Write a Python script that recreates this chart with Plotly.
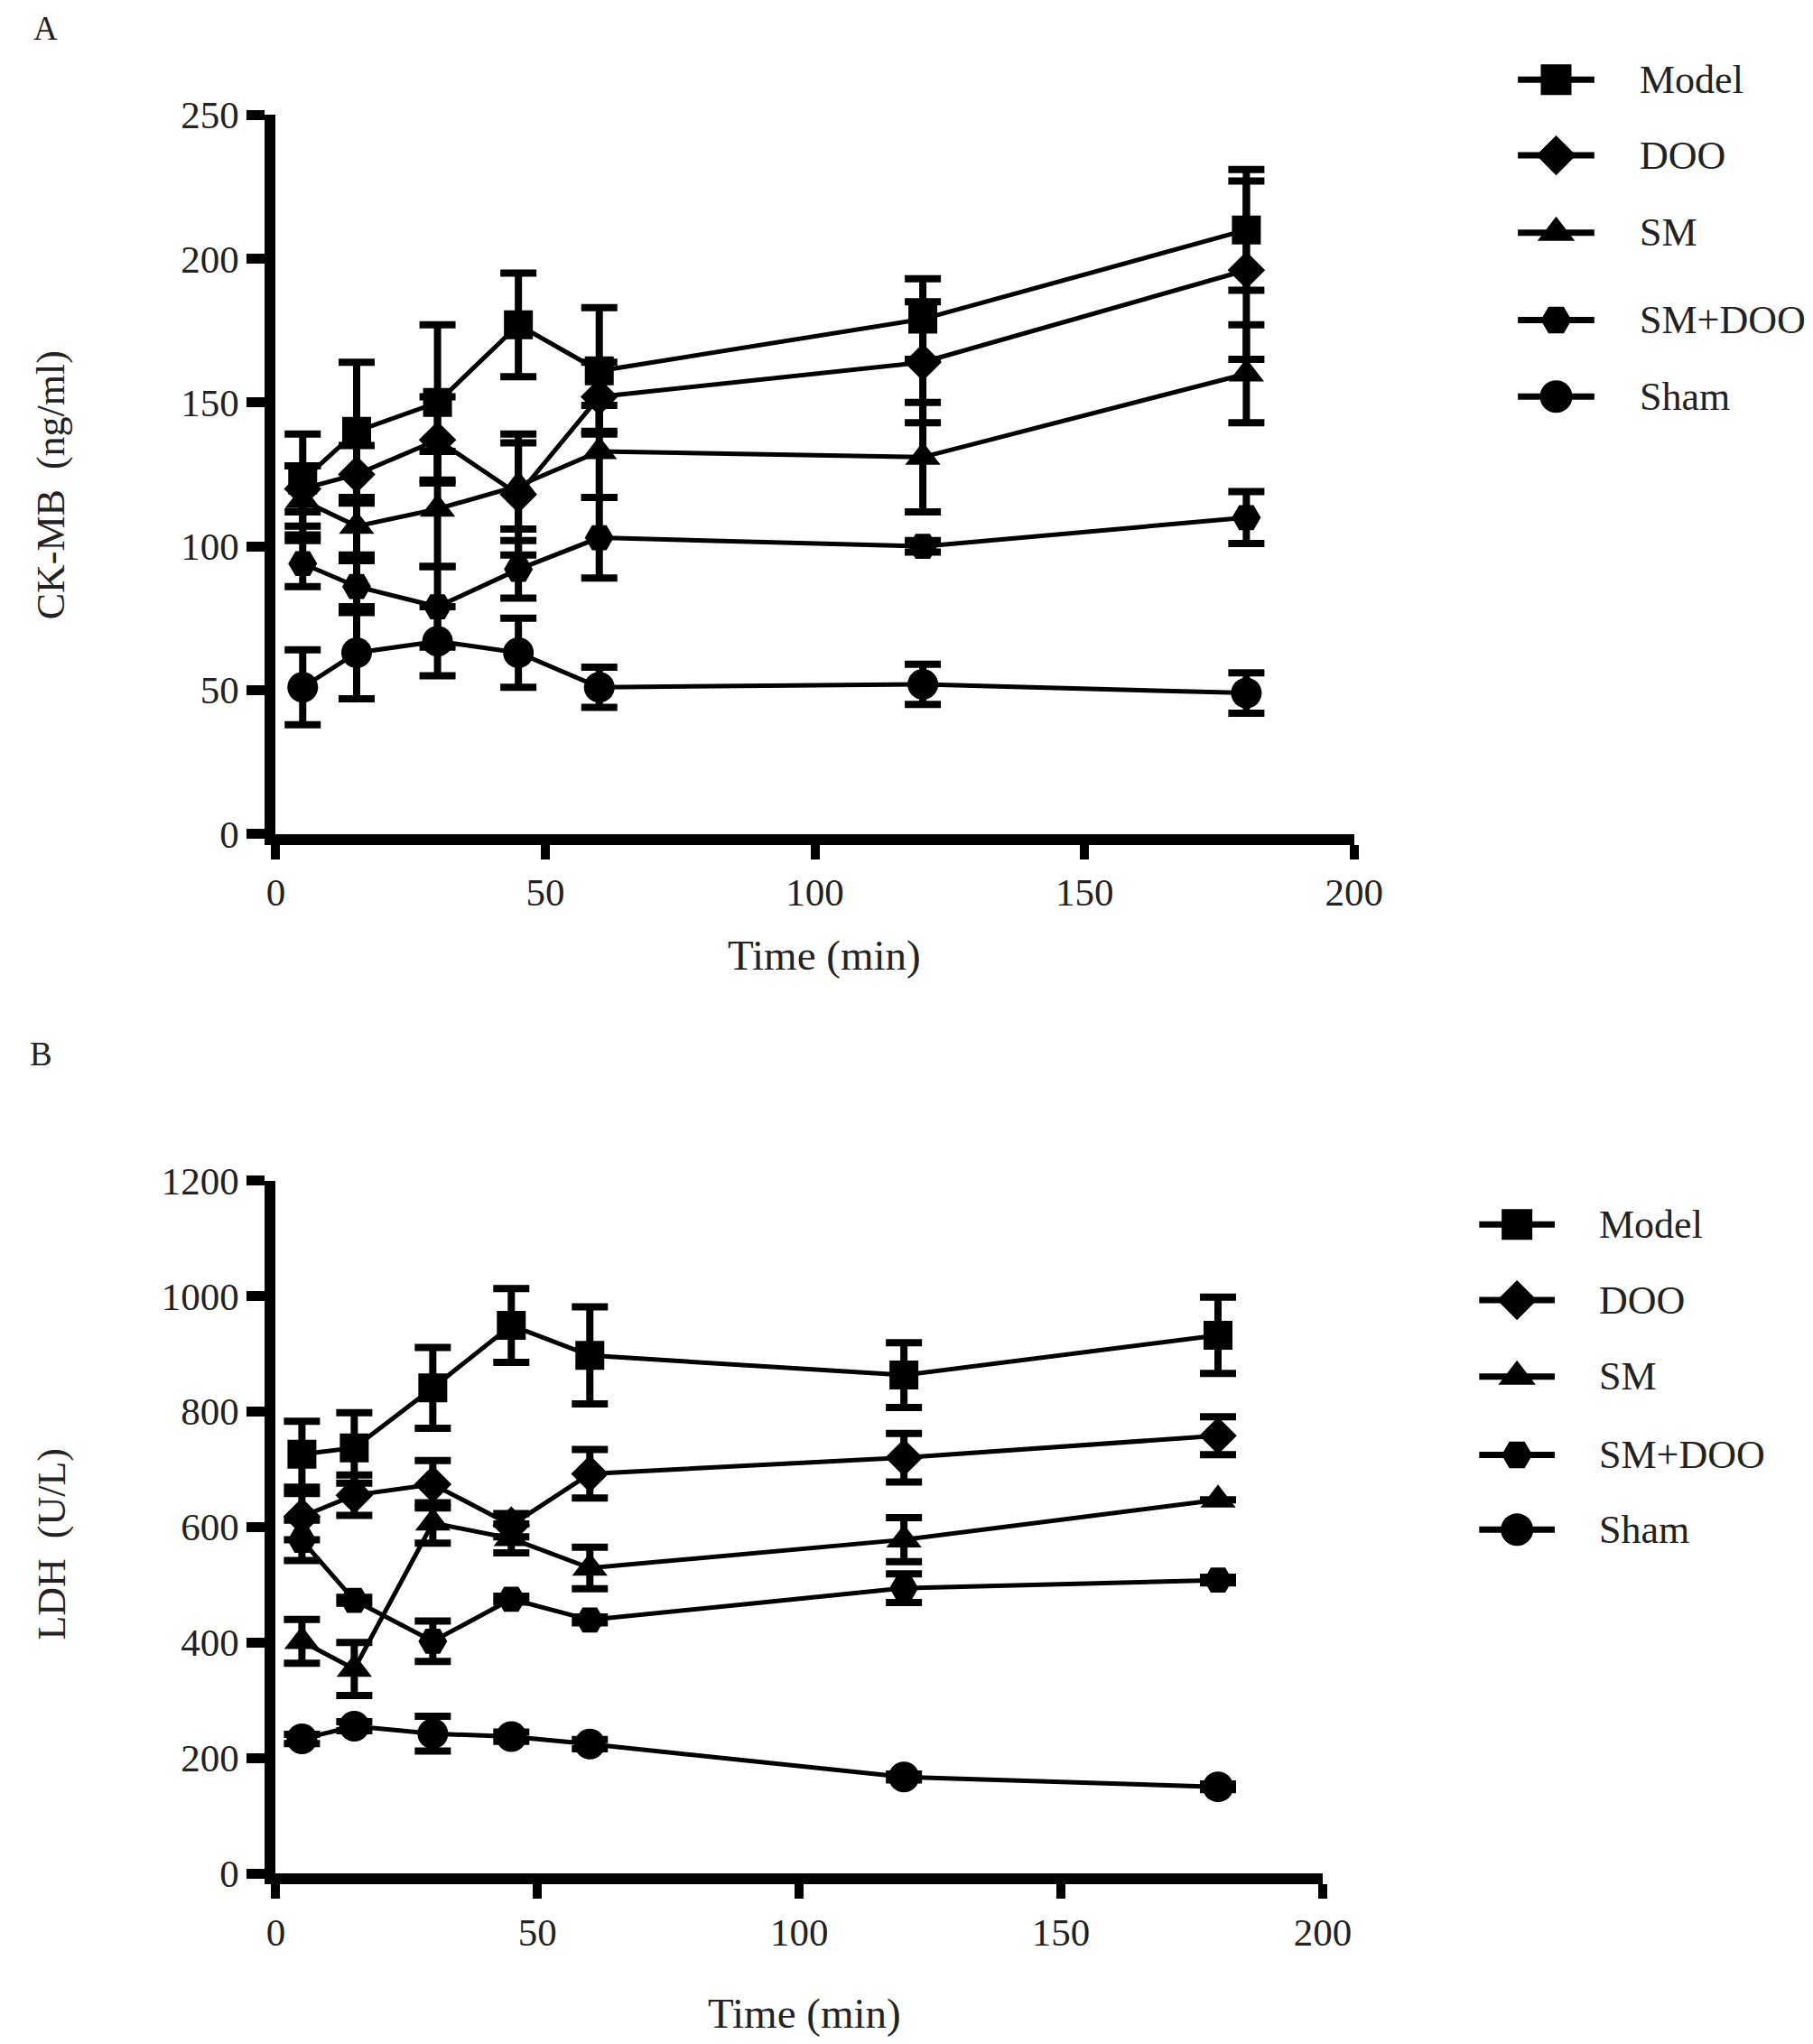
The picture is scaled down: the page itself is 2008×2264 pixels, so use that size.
import plotly.graph_objects as go

# ---------------- data ----------------
time_min = [5, 15, 30, 45, 60, 120, 180]
groups = ["Model", "DOO", "SM", "SM+DOO", "Sham"]

ck_model = [123, 140, 150, 177, 161, 179, 210]
ck_model_err = [16, 24, 27, 18, 22, 14, 21]
ck_doo = [120, 125, 137, 118, 152, 164, 196]
ck_doo_err = [8, 10, 15, 21, 12, 21, 31]
ck_sm = [116, 107, 113, 121, 133, 131, 160]
ck_sm_err = [12, 10, 20, 15, 16, 19, 17]
ck_smdoo = [94, 86, 79, 92, 103, 100, 110]
ck_smdoo_err = [8, 9, 14, 10, 14, 2, 9]
ck_sham = [51, 63, 67, 63, 51, 52, 49]
ck_sham_err = [13, 16, 12, 12, 7, 7, 7]

ldh_model = [726, 737, 841, 949, 897, 863, 932]
ldh_model_err = [57, 61, 70, 64, 84, 56, 66]
ldh_doo = [618, 655, 674, 603, 692, 720, 758]
ldh_doo_err = [40, 35, 41, 20, 42, 42, 33]
ldh_sm = [402, 354, 607, 580, 529, 578, 647]
ldh_sm_err = [38, 46, 35, 25, 36, 38, 0]
ldh_smdoo = [577, 473, 402, 475, 439, 494, 508]
ldh_smdoo_err = [35, 5, 35, 5, 5, 25, 5]
ldh_sham = [233, 255, 242, 237, 224, 167, 150]
ldh_sham_err = [8, 8, 30, 8, 8, 5, 5]

x_ticks = [0, 50, 100, 150, 200]
ck_ticks = [0, 50, 100, 150, 200, 250]
ldh_ticks = [0, 200, 400, 600, 800, 1000, 1200]

# ---------------- style / layout ----------------
W, H = 2008, 2264
FONT = "Liberation Serif"
K = 1.018            # page-to-screenshot compensation
def cx(p):
    return K * p - 16.8
def cy(p):
    return K * p - 30.0
def fs(s):
    return round(s * K)

symbols = ["square", "diamond", "triangle-up", "hexagon2", "circle"]
sizes = [32, 32, 34, 32, 34]

ck_series = [(ck_model, ck_model_err), (ck_doo, ck_doo_err), (ck_sm, ck_sm_err),
             (ck_smdoo, ck_smdoo_err), (ck_sham, ck_sham_err)]
ldh_series = [(ldh_model, ldh_model_err), (ldh_doo, ldh_doo_err), (ldh_sm, ldh_sm_err),
              (ldh_smdoo, ldh_smdoo_err), (ldh_sham, ldh_sham_err)]

fig = go.Figure()

def add_panel(series, xa, ya):
    for i, (vals, errs) in enumerate(series):
        fig.add_trace(go.Scatter(
            x=time_min, y=vals, xaxis=xa, yaxis=ya, mode="lines+markers",
            name=groups[i], showlegend=False, cliponaxis=False,
            line=dict(color="black", width=5),
            marker=dict(symbol=symbols[i], size=sizes[i], color="black",
                        opacity=1, line=dict(color="black", width=0)),
            error_y=dict(type="data", array=errs, visible=True,
                         color="black", thickness=8, width=20),
        ))

add_panel(ck_series, "x", "y")
add_panel(ldh_series, "x2", "y2")

# custom legends (pixel-space overlay axis)
leg_A = dict(x0=1685, x1=1770, xt=1818, rows=[87, 171, 257, 354, 439])
leg_B = dict(x0=1642, x1=1726, xt=1773, rows=[1359, 1443, 1528, 1615, 1698])
annotations = []
for leg in (leg_A, leg_B):
    for i, g in enumerate(groups):
        yy = cy(leg["rows"][i])
        xa0, xa1 = cx(leg["x0"]), cx(leg["x1"])
        fig.add_trace(go.Scatter(
            x=[xa0, xa1], y=[yy, yy], xaxis="x3", yaxis="y3",
            mode="lines", showlegend=False, hoverinfo="skip",
            line=dict(color="black", width=7),
        ))
        fig.add_trace(go.Scatter(
            x=[(xa0 + xa1) / 2], y=[yy], xaxis="x3", yaxis="y3",
            mode="markers", showlegend=False, hoverinfo="skip",
            marker=dict(symbol=symbols[i], size=sizes[i] + 2, color="black",
                        opacity=1, line=dict(color="black", width=0)),
        ))
        annotations.append(dict(x=cx(leg["xt"]) / W, y=1 - yy / H, xref="paper", yref="paper",
                                text=g, showarrow=False, xanchor="left", yanchor="middle",
                                font=dict(family=FONT, size=fs(43), color="#222")))

def ann(text, xp, yp, size, angle=0):
    annotations.append(dict(x=cx(xp) / W, y=1 - cy(yp) / H, xref="paper", yref="paper",
                            text=text, showarrow=False, textangle=angle,
                            xanchor="center", yanchor="middle",
                            font=dict(family=FONT, size=fs(size), color="#222")))

ann("A", 48, 30, 36)
ann("B", 43, 1170, 36)
ann("CK-MB  (ng/ml)", 55, 537, 43, -90)
ann("LDH  (U/L)", 55, 1714, 43, -90)
ann("Time (min)", 914, 1060, 46)
ann("Time (min)", 892, 2235, 46)

tickfont = dict(family=FONT, size=fs(42), color="#222")
def xaxis_cfg(d0, d1, anchor):
    return dict(domain=[cx(d0) / W, cx(d1) / W], range=[0, 200], anchor=anchor,
                tickvals=x_ticks, showline=True, linewidth=12, linecolor="black",
                ticks="outside", ticklen=16, tickwidth=10, tickcolor="black",
                showgrid=False, zeroline=False, tickfont=tickfont)

def yaxis_cfg(p0, p1, rng, tv, anchor):
    return dict(domain=[1 - cy(p0) / H, 1 - cy(p1) / H], range=rng, anchor=anchor,
                tickvals=tv, showline=True, linewidth=12, linecolor="black",
                ticks="outside", ticklen=20, tickwidth=11, tickcolor="black",
                showgrid=False, zeroline=False, tickfont=tickfont)

fig.update_layout(
    width=W, height=H, margin=dict(l=0, r=0, t=0, b=0),
    paper_bgcolor="white", plot_bgcolor="rgba(0,0,0,0)", showlegend=False,
    xaxis=xaxis_cfg(304, 1503, "y"),
    yaxis=yaxis_cfg(925, 126, [0, 250], ck_ticks, "x"),
    xaxis2=xaxis_cfg(304, 1468, "y2"),
    yaxis2=yaxis_cfg(2080, 1310, [0, 1200], ldh_ticks, "x2"),
    xaxis3=dict(domain=[0, 1], range=[0, W], visible=False, anchor="y3"),
    yaxis3=dict(domain=[0, 1], range=[H, 0], visible=False, anchor="x3"),
    annotations=annotations,
)

fig.write_html("out.html")
